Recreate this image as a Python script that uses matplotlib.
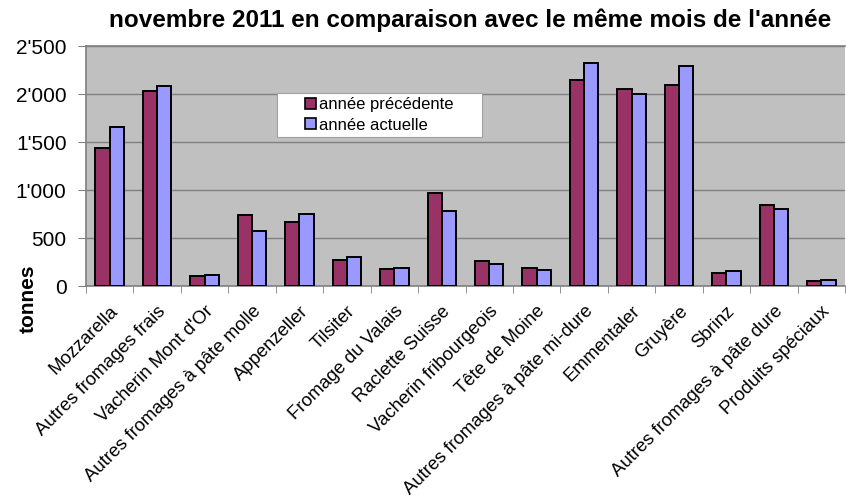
import numpy as np
import matplotlib.pyplot as plt
from matplotlib.patches import Rectangle
from matplotlib.ticker import FuncFormatter

plt.rcParams["font.family"] = ["Liberation Sans", "DejaVu Sans"]

# data (tonnes)
categories = [
    "Mozzarella", "Autres fromages frais", "Vacherin Mont d'Or",
    "Autres fromages à pâte molle", "Appenzeller", "Tilsiter",
    "Fromage du Valais", "Raclette Suisse", "Vacherin fribourgeois",
    "Tête de Moine", "Autres fromages à pâte mi-dure", "Emmentaler",
    "Gruyère", "Sbrinz", "Autres fromages à pâte dure", "Produits spéciaux",
]
prev_year = [1434, 2028, 101, 740, 663, 274, 181, 965, 260, 184, 2149, 2049, 2097, 135, 840, 49]
curr_year = [1653, 2087, 118, 573, 753, 302, 188, 785, 232, 163, 2323, 1997, 2292, 160, 799, 59]
y_ticks = [0, 500, 1000, 1500, 2000, 2500]

COL_PREV = "#993366"
COL_CURR = "#9999FF"

fig = plt.figure(figsize=(8.46, 5.0), dpi=100)
ax = fig.add_axes([86 / 846, 1 - 286 / 500, 759 / 846, 240 / 500])
ax.set_facecolor("#C0C0C0")

x = np.arange(len(categories))
w = 0.3
ax.bar(x - w / 2, prev_year, w, color=COL_PREV, edgecolor="black", linewidth=1.4,
       label="année précédente", zorder=3)
ax.bar(x + w / 2, curr_year, w, color=COL_CURR, edgecolor="black", linewidth=1.4,
       label="année actuelle", zorder=3)

ax.set_xlim(-0.5, len(categories) - 0.5)
ax.set_ylim(0, 2500)
ax.set_yticks(y_ticks)
ax.yaxis.set_major_formatter(FuncFormatter(lambda v, p: f"{int(v):,}".replace(",", "'")))
ax.grid(axis="y", color="#808080", linewidth=1, zorder=0)
ax.set_axisbelow(True)

ax.set_xticks(np.arange(len(categories) + 1) - 0.5, minor=True)
ax.set_xticks(x)
ax.set_xticklabels(categories, rotation=45, ha="right", rotation_mode="anchor",
                   fontsize=13.3)
ax.tick_params(axis="x", which="major", length=0, pad=12)
ax.tick_params(axis="x", which="minor", length=5, color="#808080")
ax.tick_params(axis="y", length=6, color="#808080", labelsize=15, pad=8)

for s in ["top", "left", "bottom"]:
    ax.spines[s].set_color("#808080")
    ax.spines[s].set_linewidth(1.2)
ax.spines["right"].set_visible(False)

fig.text(470 / 846, 1 - 20 / 500,
         "novembre 2011 en comparaison avec le même mois de l'année",
         fontsize=17.5, fontweight="bold", ha="center", va="center")
fig.text(28 / 846, 1 - 299 / 500, "tonnes", rotation=90, fontsize=15,
         fontweight="bold", ha="center", va="center")

# legend: white box, then frameless legend on top
box = Rectangle((277 / 846, 1 - 137 / 500), 205 / 846, 44 / 500, transform=fig.transFigure,
                facecolor="white", edgecolor="#A0A0A0", linewidth=0.8, zorder=5)
ax.add_patch(box)
leg = ax.legend(loc="center left", bbox_to_anchor=(305 / 846, 1 - 115 / 500),
                bbox_transform=fig.transFigure, fontsize=12, frameon=False,
                handlelength=0.66, handleheight=0.66, handletextpad=0.15,
                borderpad=0, labelspacing=0.3, borderaxespad=0)
leg.set_zorder(6)
for h in leg.legend_handles:
    h.set_linewidth(1.2)

fig.savefig("out.png", dpi=100)
